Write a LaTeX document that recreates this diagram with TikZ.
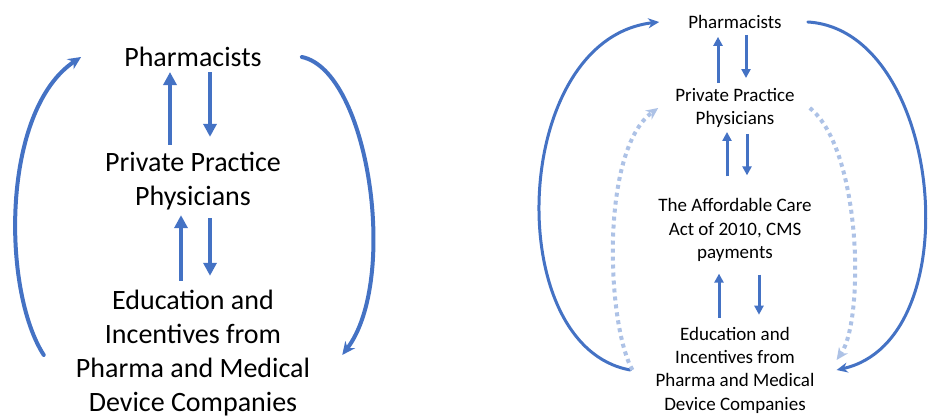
\documentclass[tikz,border=0pt]{standalone}
\usepackage{fontspec}
\setmainfont{Carlito}
\usetikzlibrary{arrows.meta}

\definecolor{flowblue}{HTML}{4472C4}
\definecolor{paleblue}{HTML}{ADC2E6}

\tikzset{
  bigtext/.style={align=center, inner sep=0pt, font=\fontsize{28}{34}\selectfont},
  smalltext/.style={align=center, inner sep=0pt, font=\fontsize{19}{23.3}\selectfont},
  bigarrow/.style={draw=flowblue, line width=4pt, -{Triangle[length=13pt,width=13pt]}},
  smallarrow/.style={draw=flowblue, line width=3pt, -{Triangle[length=9pt,width=9pt]}},
  bigloop/.style={draw=flowblue, line width=4pt, line cap=round, -{Stealth[length=13pt,width=12pt]}},
  smallloop/.style={draw=flowblue, line width=3pt, line cap=round, -{Stealth[length=11pt,width=10pt]}},
  dotloop/.style={draw=paleblue, line width=4pt, dash pattern=on 4pt off 4pt, -{Stealth[length=12pt,width=11pt]}}
}

\begin{document}
\begin{tikzpicture}[x=1pt, y=-1pt]
  \useasboundingbox (0,0) rectangle (929,419);

  % left chain
  \node[bigtext] (pharmL) at (193,57) {Pharmacists};
  \node[bigtext] (physL) at (193,181) {Private Practice\\Physicians};
  \node[bigtext] (eduL) at (193,353) {Education and\\Incentives from\\Pharma and Medical\\Device Companies};

  \draw[bigarrow, shorten <=7pt, shorten >=5pt] ([xshift=-23pt]physL.north) -- ([xshift=-23pt]physL.north |- pharmL.south);
  \draw[bigarrow, shorten <=5pt, shorten >=15pt] ([xshift=17pt]pharmL.south) -- ([xshift=17pt]pharmL.south |- physL.north);
  \draw[bigarrow, shorten <=9pt, shorten >=5pt] ([xshift=-12pt]eduL.north) -- ([xshift=-12pt]eduL.north |- physL.south);
  \draw[bigarrow, shorten <=8pt, shorten >=14pt] ([xshift=17pt]physL.south) -- ([xshift=17pt]physL.south |- eduL.north);

  \draw[bigloop] ([xshift=-32pt,yshift=-2pt]eduL.west) .. controls +(-42,-65) and +(-80,53) .. ([xshift=-43pt]pharmL.west);
  \draw[bigloop] ([xshift=40pt]pharmL.east) .. controls +(67,14) and +(57,-75) .. ([xshift=32pt,yshift=-2pt]eduL.east);

  % right chain
  \node[smalltext] (pharmR) at (735,22) {Pharmacists};
  \node[smalltext] (physR) at (735,108) {Private Practice\\Physicians};
  \node[smalltext] (acaR) at (735,230) {The Affordable Care\\Act of 2010, CMS\\payments};
  \node[smalltext] (eduR) at (735,370) {Education and\\Incentives from\\Pharma and Medical\\Device Companies};

  \draw[smallarrow, shorten <=5pt, shorten >=8pt] ([xshift=-17pt]physR.north) -- ([xshift=-17pt]physR.north |- pharmR.south);
  \draw[smallarrow, shorten <=6pt, shorten >=10pt] ([xshift=11pt]pharmR.south) -- ([xshift=11pt]pharmR.south |- physR.north);
  \draw[smallarrow, shorten <=22pt, shorten >=4pt] ([xshift=-8pt]physR.south |- acaR.north) -- ([xshift=-8pt]physR.south);
  \draw[smallarrow, shorten <=6pt, shorten >=23pt] ([xshift=12pt]physR.south) -- ([xshift=12pt]physR.south |- acaR.north);
  \draw[smallarrow, shorten <=9pt, shorten >=12pt] ([xshift=-16pt]eduR.north) -- ([xshift=-16pt]eduR.north |- acaR.south);
  \draw[smallarrow, shorten <=13pt, shorten >=12pt] ([xshift=24pt]eduR.north |- acaR.south) -- ([xshift=24pt]eduR.north);

  \draw[smallloop] ([xshift=-25pt]eduR.west) .. controls +(-130,-23) and +(-149,17) .. ([xshift=-29pt]pharmR.west);
  \draw[smallloop] ([xshift=26pt]pharmR.east) .. controls +(135,8) and +(135,-30) .. ([xshift=22pt]eduR.east);
  \draw[dotloop] ([xshift=-23pt]eduR.west) .. controls +(-26,-47) and +(-58,42) .. ([xshift=-17pt]physR.west);
  \draw[dotloop] ([xshift=15pt]physR.east) .. controls +(52,42) and +(28,-40) .. ([xshift=22pt,yshift=10pt]eduR.east);
\end{tikzpicture}
\end{document}
